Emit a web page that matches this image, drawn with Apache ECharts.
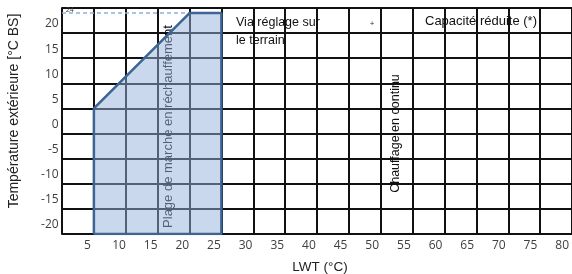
<!DOCTYPE html>
<html><head><meta charset="utf-8">
<script src="https://cdn.jsdelivr.net/npm/echarts@6/dist/echarts.min.js"></script>
<style>html,body{margin:0;padding:0;background:#fff}#c{width:572px;height:274px}</style>
</head><body><div id="c"></div>
<script>
// Tick labels
const xTickLabels = [5,10,15,20,25,30,35,40,45,50,55,60,65,70,75,80];
const yTickLabels = [-20,-15,-10,-5,0,5,10,15,20];
// Operating range polygon (LWT °C, outdoor °C)
const rangeLWT = [5, 5, 20, 25, 25, 5];
const rangeOut = [-20, 5, 24, 24, -20, -20];
// Reference level line
const refLevel = 24;
const refLWTStart = 0;
const refLWTEnd = 20;

const chart = echarts.init(document.getElementById('c'), null, {renderer:'canvas'});
const gridLine = {show:true, lineStyle:{color:'#111', width:2}};
const labelFont = {fontFamily:'Open Sans', fontSize:12, color:'#404040'};
const textFont = 'Liberation Sans';

const option = {
  animation:false,
  backgroundColor:'#fff',
  grid:[
    {left:62, right:-2, top:8, bottom:40, containLabel:false},
    {left:55.7, right:9, top:24, bottom:49, containLabel:false}
  ],
  xAxis:[
    {type:'value', gridIndex:0, min:0, max:80, interval:5,
     axisLine:{show:true, lineStyle:{color:'#111', width:2}}, axisTick:{show:false},
     axisLabel:{show:false}, splitLine:gridLine},
    {type:'value', gridIndex:1, min:0, max:80, interval:5,
     axisLine:{show:false}, axisTick:{show:false}, splitLine:{show:false},
     axisLabel:Object.assign({margin:15, formatter:v => xTickLabels.includes(v) ? String(v) : ''}, labelFont)}
  ],
  yAxis:[
    {type:'value', gridIndex:0, min:-20, max:25, interval:5,
     axisLine:{show:true, lineStyle:{color:'#111', width:2}}, axisTick:{show:false},
     axisLabel:{show:false}, splitLine:gridLine},
    {type:'value', gridIndex:1, min:-20, max:20, interval:5,
     axisLine:{show:false}, axisTick:{show:false}, splitLine:{show:false},
     axisLabel:Object.assign({margin:-3, formatter:v => yTickLabels.includes(v) ? String(v) : ''}, labelFont)}
  ],
  series:[
    {type:'line', xAxisIndex:0, yAxisIndex:0, z:5,
     data: rangeLWT.map((x,i)=>[x, rangeOut[i]]),
     symbol:'none', silent:true,
     lineStyle:{color:'#3d6494', width:2.5},
     areaStyle:{color:'rgba(147,178,218,0.5)', origin:'start', opacity:1},
     markLine:{silent:true, symbol:'none', z:4,
       lineStyle:{color:'#8fb1da', width:1.5, type:[4,3]},
       label:{show:true, position:'insideStartTop', formatter:String(refLevel), distance:[4,-1], fontSize:7, color:'#404040', fontFamily:textFont},
       data:[[{coord:[refLWTStart, refLevel]},{coord:[refLWTEnd, refLevel]}]]}}
  ],
  graphic:[
    {type:'text', x:14, y:111, rotation:Math.PI/2, style:{text:'Température extérieure [°C BS]', font:'14px "Liberation Sans"', fill:'#222', align:'center', verticalAlign:'middle'}},
    {type:'text', x:320, y:267, style:{text:'LWT (°C)', font:'13.5px "Liberation Sans"', fill:'#222', align:'center', verticalAlign:'middle'}},
    {type:'text', x:168.5, y:126.5, rotation:Math.PI/2, style:{text:'Plage de marche en réchauffement', font:'13px "Liberation Sans"', fill:'#111', align:'center', verticalAlign:'middle'}},
    {type:'text', x:396, y:133.5, rotation:Math.PI/2, style:{text:'Chauffage en continu', font:'12.5px "Liberation Sans"', fill:'#111', align:'center', verticalAlign:'middle'}},
    {type:'text', x:236, y:13.5, style:{text:'Via réglage sur\nle terrain', font:'12.5px "Liberation Sans"', lineHeight:18, fill:'#111', align:'left', verticalAlign:'top'}},
    {type:'text', x:372, y:24, style:{text:'+', font:'8px "Liberation Sans"', fill:'#333', align:'center', verticalAlign:'middle'}},
    {type:'text', x:425, y:21.7, style:{text:'Capacité réduite (*)', font:'13px "Liberation Sans"', fill:'#111', align:'left', verticalAlign:'middle'}}
  ]
};
chart.setOption(option);
</script>
</body></html>
